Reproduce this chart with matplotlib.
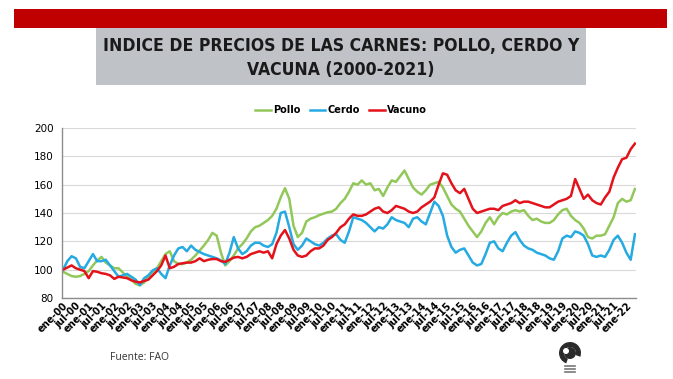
import numpy as np
import matplotlib
matplotlib.use("Agg")
import matplotlib.pyplot as plt
from matplotlib.patches import Rectangle, Wedge, Circle

# indices de precios (FAO), un valor cada 2 meses desde ene-00
meses = np.arange(0, 269, 2)

pollo = [98.5, 97, 95.5, 95, 95.5, 97, 99, 103, 106.5, 109,
         105, 103, 101, 101, 98, 95, 93, 90, 89, 91,
         95, 98.5, 101, 106, 111, 113, 106, 104, 104, 105,
         107, 110, 113.5, 117, 121, 126, 124, 112, 103, 106,
         110, 115, 118, 122, 127, 130, 131, 133, 135, 138,
         143, 151, 157.5, 150, 131, 123, 126, 134, 136, 137,
         138.5, 139.5, 140.5, 141, 143, 147, 150, 155, 161, 160,
         163, 160, 161, 156, 157, 152, 158, 163, 162, 166,
         170, 164, 158, 155, 153, 156, 160, 161, 162, 158,
         152, 146, 143, 141, 136, 131, 127, 123, 127, 133,
         137, 132, 137, 140, 139, 141, 142, 141, 142, 138,
         135, 136, 134, 133, 133, 135, 139, 142, 143, 138,
         135, 133, 129, 123, 122, 124, 124, 125, 131, 137,
         147, 150, 148, 149, 157]

cerdo = [100, 106, 109.5, 108, 102, 101, 106, 111, 106, 106,
         107, 103, 99, 95, 96, 97, 95, 93, 89, 94,
         96, 99.5, 101, 97, 94, 103, 110, 115, 116, 113,
         117, 114, 112.5, 111, 110, 109, 108, 106.5, 104, 112,
         123, 115, 111, 113, 117, 119, 119, 117, 116, 118,
         126, 140, 141, 130, 118, 114, 117, 122, 120, 118,
         117, 119, 122, 124, 125, 121, 119, 127, 137, 136,
         135, 133, 130, 127, 130, 129, 132, 137, 135, 134,
         133, 130, 136, 137, 134, 132, 140, 148, 145, 138,
         124, 116, 112, 114, 115, 110, 105, 103, 104, 111,
         119, 120, 115, 113, 119, 124, 126.5, 121, 117, 115,
         114, 112, 111, 110, 108, 107, 113, 122, 124, 123,
         127, 126, 124, 118, 110, 109, 110, 109, 114, 121,
         124, 119, 112, 107, 125]

vacuno = [100, 101.5, 103, 101, 100, 99, 94, 99, 98.5, 97.5,
          97, 96, 93.5, 95, 94.5, 94, 92.5, 91.5, 91, 92,
          93, 96, 99, 103, 110, 101, 102, 104, 104.5, 105,
          105, 106, 108, 106, 107, 107.5, 107.5, 106, 105.5, 107,
          108.5, 109, 108, 109, 111, 112, 113, 112, 113, 108,
          118, 124, 128, 122, 114, 110, 109, 110, 113, 115,
          115, 117, 121, 123, 126, 130, 132, 136, 139, 138,
          138, 139, 141, 143, 144, 141, 140, 142, 145, 144,
          143, 141, 140, 141, 144, 146, 148, 151, 160, 168,
          167, 161, 156, 154, 157, 150, 143, 140, 141, 142,
          143, 143, 142, 145, 146, 147, 149, 147, 148, 148,
          147, 146, 145, 144, 144, 146, 148, 149, 150, 152,
          164, 157, 150, 153, 149, 147, 146, 151, 155, 165,
          172, 178, 179, 185, 189]

n_meses = 269
nombres_mes = {0: "ene", 6: "jul"}
pos_ticks = np.arange(0, n_meses, 6)
etiquetas = ["%s-%02d" % (nombres_mes[p % 12], p // 12) for p in pos_ticks]

W, H = 673, 379
fig = plt.figure(figsize=(W / 100, H / 100), dpi=100)
fig.patch.set_facecolor("white")

# capa de fondo en pixeles para banda roja, caja del titulo y logo
bg = fig.add_axes([0, 0, 1, 1])
bg.set_xlim(0, W)
bg.set_ylim(H, 0)
bg.axis("off")
bg.add_patch(Rectangle((14, 9), 653, 19, color="#c00000", lw=0))
bg.add_patch(Rectangle((96, 28), 490, 57, color="#bfc3c8", lw=0))
titulo = dict(ha="center", va="center", fontsize=12.6, fontweight="bold",
              color="#1a1a1a", family="DejaVu Sans", fontstretch="condensed")
bg.text(341, 46, "INDICE DE PRECIOS DE LAS CARNES: POLLO, CERDO Y", **titulo)
bg.text(341, 70, "VACUNA (2000-2021)", **titulo)
bg.text(110, 357, "Fuente: FAO", ha="left", va="center", fontsize=7.5,
        color="#333333", family="Open Sans")

# logo (bombilla)
bg.add_patch(Wedge((570, 353), 11, 110, 20, width=5, color="#2b2b2b", lw=0))
bg.add_patch(Circle((570, 353), 6, color="#2b2b2b", lw=0))
bg.add_patch(Circle((566, 351), 3, color="white", lw=0))
for yy in (366, 369, 372):
    bg.plot([565, 575], [yy, yy], color="#777777", lw=1.2)

ax = fig.add_axes([62 / W, 1 - 298 / H, 574 / W, 170 / H])
ax.plot(meses, pollo, color="#92c85a", lw=1.8, label="Pollo")
ax.plot(meses, cerdo, color="#25aae1", lw=1.8, label="Cerdo")
ax.plot(meses, vacuno, color="#e3121b", lw=1.8, label="Vacuno")

ax.set_xlim(-0.5, n_meses - 0.5)
ax.set_ylim(80, 200)
ax.set_yticks(np.arange(80, 201, 20))
ax.grid(axis="y", color="#d9d9d9", lw=0.8)
ax.set_axisbelow(True)
ax.set_xticks(pos_ticks)
ax.set_xticklabels(etiquetas, rotation=45, ha="right", va="top",
                   rotation_mode="anchor", fontsize=7, fontweight="bold")
ax.tick_params(axis="x", length=0, pad=2)
ax.tick_params(axis="y", length=0, pad=6, labelsize=7.5)
for s in ("top", "right"):
    ax.spines[s].set_visible(False)
for s in ("left", "bottom"):
    ax.spines[s].set_color("#8c8c8c")
    ax.spines[s].set_linewidth(1)

fig.legend(loc="center", bbox_to_anchor=(341 / W, 1 - 110 / H), ncol=3,
           frameon=False, handlelength=1.6, handletextpad=0.2,
           columnspacing=1.0, prop={"weight": "bold", "size": 7})

fig.savefig("out.png", dpi=100)
